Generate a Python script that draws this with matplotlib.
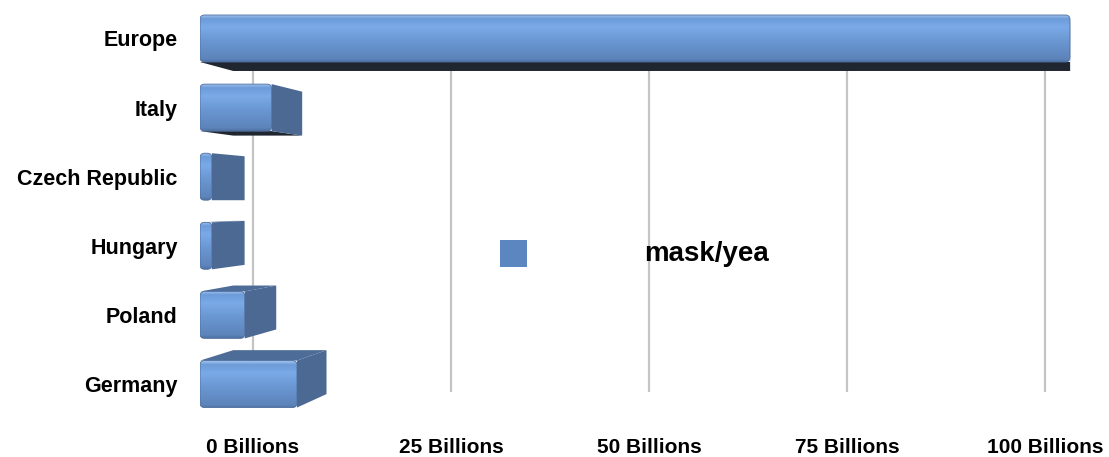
import numpy as np
import matplotlib.pyplot as plt
from matplotlib.patches import Polygon, FancyBboxPatch
from matplotlib.colors import LinearSegmentedColormap

# ---------- data ----------
countries = ["Germany", "Poland", "Hungary", "Czech Republic", "Italy", "Europe"]
values = [11.5, 5.3, 1.4, 1.4, 8.5, 103.2]      # billions
ticks = [0, 25, 50, 75, 100]
tick_labels = [f"{t} Billions" for t in ticks]
series_name = "mask/yea"

# ---------- fake perspective ----------
VP_X, VP_Y = 103.8, 2.66     # vanishing point in data units
K_WALL = 0.9394              # back wall (gridlines)
KX, KY = 0.962, 0.935        # back face of the bars
BAR_H = 0.68

FRONT_EDGE = "#4d6d9c"
SIDE = "#4b6993"
TOP = "#4e6c98"
UNDER = "#1f2630"
GRID = "#c4c4c4"
FONT = "Liberation Sans"


def back(x, y):
    return VP_X + (x - VP_X) * KX, VP_Y + (y - VP_Y) * KY


fig = plt.figure(figsize=(11.09, 4.57), dpi=100)
ax = fig.add_axes([200 / 1109, 37 / 457, 900 / 1109, 420 / 457])
for s in ax.spines.values():
    s.set_visible(False)

# gridlines on the back wall
wall_x = [VP_X + (t - VP_X) * K_WALL for t in ticks]
ax.vlines(wall_x, -0.12, 5.0, color=GRID, lw=1.6, zorder=1)

cmap = LinearSegmentedColormap.from_list(
    "front", [(0, "#4f72a6"), (0.06, "#5d84bb"), (0.45, "#6a97d2"),
              (0.75, "#7aaae8"), (0.93, "#6c9bd8"), (1.0, "#9cc0ee")])
gy = np.linspace(0, 1, 64).reshape(-1, 1)

for i, v in enumerate(values):
    y0, y1 = i - BAR_H / 2, i + BAR_H / 2
    # top or bottom face
    edge = y1 if y1 < VP_Y else y0
    face_col = TOP if y1 < VP_Y else UNDER
    (bx0, by0), (bx1, by1) = back(0, edge), back(v, edge)
    ax.add_patch(Polygon([(0, edge), (v, edge), (bx1, by1), (bx0, by0)],
                         closed=True, fc=face_col, ec="none", zorder=3))
    # end face
    (ex0, ey0), (ex1, ey1) = back(v, y0), back(v, y1)
    ax.add_patch(Polygon([(v, y0), (v, y1), (ex1, ey1), (ex0, ey0)],
                         closed=True, fc=SIDE, ec="none", zorder=3))
    # front face with gradient
    front = FancyBboxPatch((0, y0), v, BAR_H,
                           boxstyle="round,pad=0,rounding_size=0.55",
                           mutation_aspect=8.43 / 69.1,
                           fc="none", ec=FRONT_EDGE, lw=0.6, zorder=5)
    ax.add_patch(front)
    im = ax.imshow(gy, cmap=cmap, extent=(0, v, y0, y1), origin="lower",
                   aspect="auto", zorder=4, interpolation="bilinear")
    im.set_clip_path(front)

ax.set_aspect("auto")
ax.set_xlim(0, 900 / 8.43)
ax.set_ylim(-0.52, 5.557)

ax.set_yticks(range(len(countries)), countries)
ax.set_xticks(wall_x, tick_labels)
ax.tick_params(axis="both", length=0)
ax.tick_params(axis="y", pad=16)
ax.tick_params(axis="x", pad=13)
for lab in ax.get_yticklabels():
    lab.set_fontfamily(FONT)
    lab.set_fontweight("bold")
    lab.set_fontsize(15.5)
for lab in ax.get_xticklabels():
    lab.set_fontfamily(FONT)
    lab.set_fontweight("bold")
    lab.set_fontsize(15)

# legend
fig.patches.append(plt.Rectangle((500 / 1109, 190 / 457), 27 / 1109, 27 / 457,
                                 transform=fig.transFigure, fc="#5b86bf",
                                 ec="none", zorder=10))
fig.text(644 / 1109, 203 / 457, series_name, fontfamily=FONT,
         fontweight="bold", fontsize=20, va="center", ha="left", zorder=10)

fig.savefig("out.png", dpi=100)
